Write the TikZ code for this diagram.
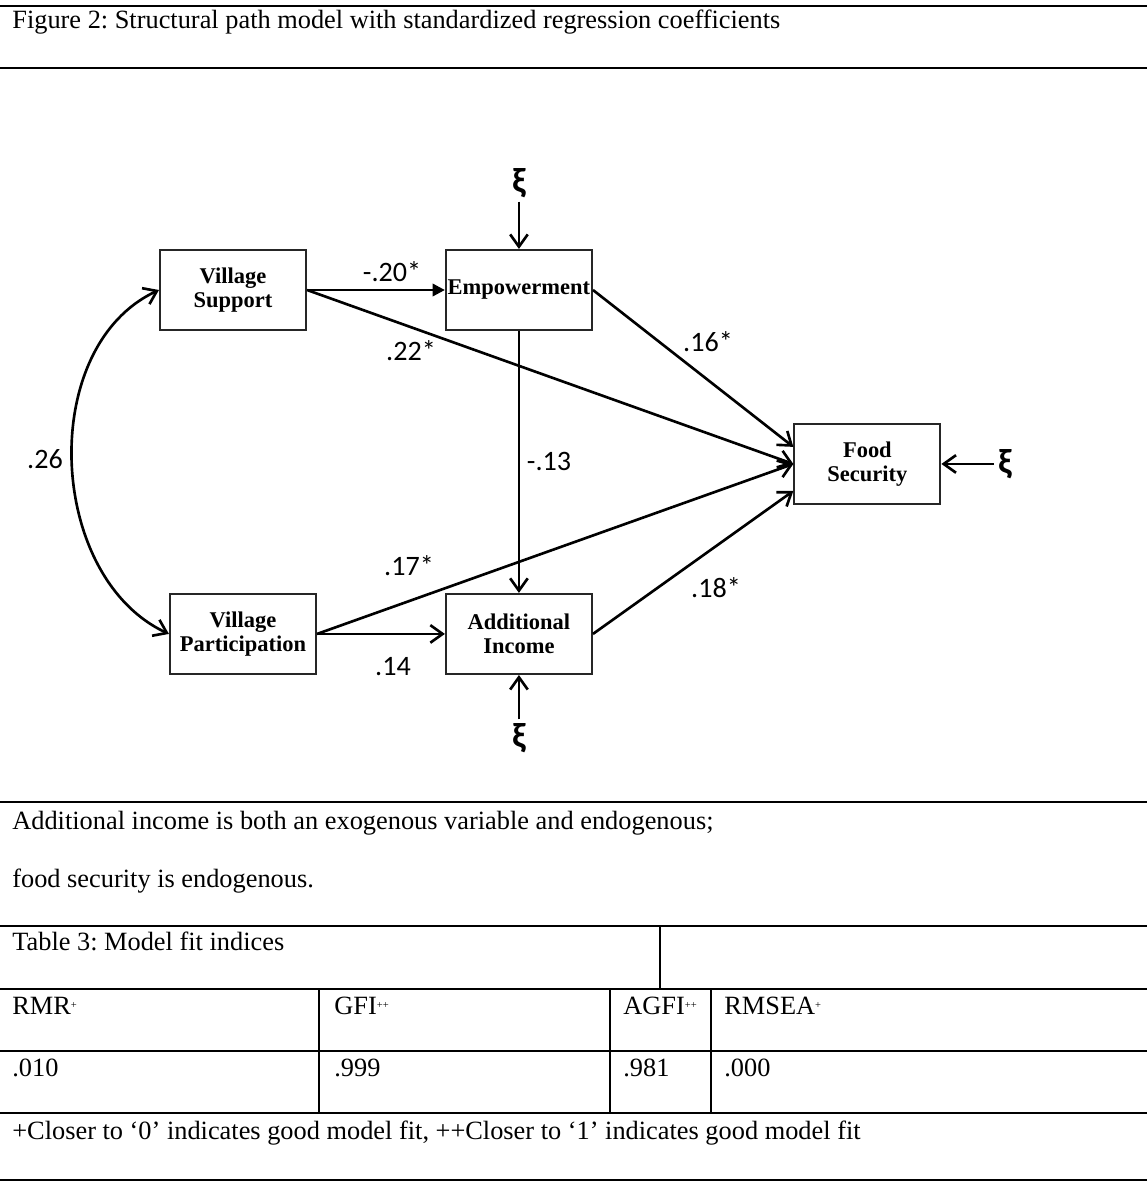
\documentclass[tikz,border=0pt]{standalone}
\usepackage{fontspec}
\setmainfont{Liberation Serif}
\newfontfamily\coeffont{Carlito}
\usetikzlibrary{positioning,arrows.meta}
\newcommand\fitmark[1]{\raisebox{3pt}{\fontsize{6}{6}\selectfont#1}}

\begin{document}
\frenchspacing
\begin{tikzpicture}[
    x=0.02cm,y=-0.02cm,on grid,>={Straight Barb[length=7pt,width=10pt]},
    var/.style={draw=black!85,line width=1.2pt,minimum width=2.92cm,minimum height=1.6cm,inner sep=0pt,align=center,font=\fontsize{12.8}{13.6}\selectfont\bfseries},
    coef/.style={inner sep=0pt,font=\coeffont\fontsize{16}{17}\selectfont},
    err/.style={inner sep=2pt,font=\coeffont\bfseries\fontsize{20}{20}\selectfont},
    arr/.style={->,line width=1.5pt},
    txt/.style={anchor=base west,inner sep=0pt,font=\fontsize{15}{18}\selectfont},
    thinrule/.style={line width=.6pt},
    thickrule/.style={line width=1.4pt}
]
    \useasboundingbox (0,0) rectangle (1147,1183);
    %Caption
    \draw[thinrule] (0,6) -- (1147,6);
    \node[txt] (cap) at (12,29) {Figure 2: Structural path model with standardized regression coefficients};
    \draw[thickrule] (0,68) -- (1147,68);
    %Variables
    \node[var] (VS) at (233,290) {Village\\Support};
    \node[var,right=5.72cm of VS] (Emp) {Empowerment};
    \node[var,below=6.88cm of Emp] (AI) {Additional\\Income};
    \node[var,left=5.52cm of AI] (VP) {Village\\Participation};
    \node[var,below right=3.48cm and 6.97cm of Emp] (FS) {Food\\Security};
    %Errors
    \node[err,above=2.14cm of Emp] (xi-Emp) {ξ};
    \node[err,below=2.08cm of AI] (xi-AI) {ξ};
    \node[err,right=2.75cm of FS] (xi-FS) {ξ};
    \draw[arr] (xi-Emp) -- (Emp);
    \draw[arr] (xi-AI) -- (AI);
    \draw[arr] (xi-FS) -- (FS);
    %Paths
    \draw[line width=1.5pt,-{Triangle[length=7pt,width=7pt]}] (VS) -- (Emp);
    \draw[arr] (VS.east) -- (FS.west);
    \draw[arr] (Emp.east) -- (FS.167);
    \draw[arr] (Emp) -- (AI);
    \draw[arr] (VP) -- (AI);
    \draw[arr] (VP.east) -- (FS.west);
    \draw[arr] (AI.east) -- (FS.200);
    \draw[<->,line width=1.5pt] (VS.west) to[out=205,in=155] (VP.west);
    %Coefficients
    \node[coef] (c-VS-Emp) at (392,272) {-.20*};
    \node[coef] (c-VS-FS) at (411,351) {.22*};
    \node[coef] (c-Emp-FS) at (708,342) {.16*};
    \node[coef] (c-Emp-AI) at (549,461) {-.13};
    \node[coef] (c-VS-VP) at (45,459) {.26};
    \node[coef] (c-VP-FS) at (409,566) {.17*};
    \node[coef] (c-AI-FS) at (716,588) {.18*};
    \node[coef] (c-VP-AI) at (393,667) {.14};
    %Notes
    \draw[thinrule] (0,802) -- (1147,802);
    \node[txt] (note1) at (12,829) {Additional income is both an exogenous variable and endogenous;};
    \node[txt] (note2) at (12,887) {food security is endogenous.};
    %Table
    \draw[thinrule] (0,926) -- (1147,926);
    \draw[thinrule] (660,926) -- (660,989);
    \node[txt] (tab) at (12,950) {Table 3: Model fit indices};
    \draw[thickrule] (0,989) -- (1147,989);
    \foreach \x in {319,610,711} \draw[thinrule] (\x,989) -- (\x,1113);
    \node[txt] (h-rmr) at (12,1014) {RMR\fitmark{+}};
    \node[txt] (h-gfi) at (334,1014) {GFI\fitmark{++}};
    \node[txt] (h-agfi) at (623,1014) {AGFI\fitmark{++}};
    \node[txt] (h-rmsea) at (724,1014) {RMSEA\fitmark{+}};
    \draw[thinrule] (0,1051) -- (1147,1051);
    \node[txt] (v-rmr) at (12,1076) {.010};
    \node[txt] (v-gfi) at (334,1076) {.999};
    \node[txt] (v-agfi) at (623,1076) {.981};
    \node[txt] (v-rmsea) at (724,1076) {.000};
    \draw[thickrule] (0,1113) -- (1147,1113);
    \node[txt] (foot) at (12,1139) {+Closer to ‘0’ indicates good model fit, ++Closer to ‘1’ indicates good model fit};
    \draw[thinrule] (0,1180) -- (1147,1180);
\end{tikzpicture}
\end{document}
